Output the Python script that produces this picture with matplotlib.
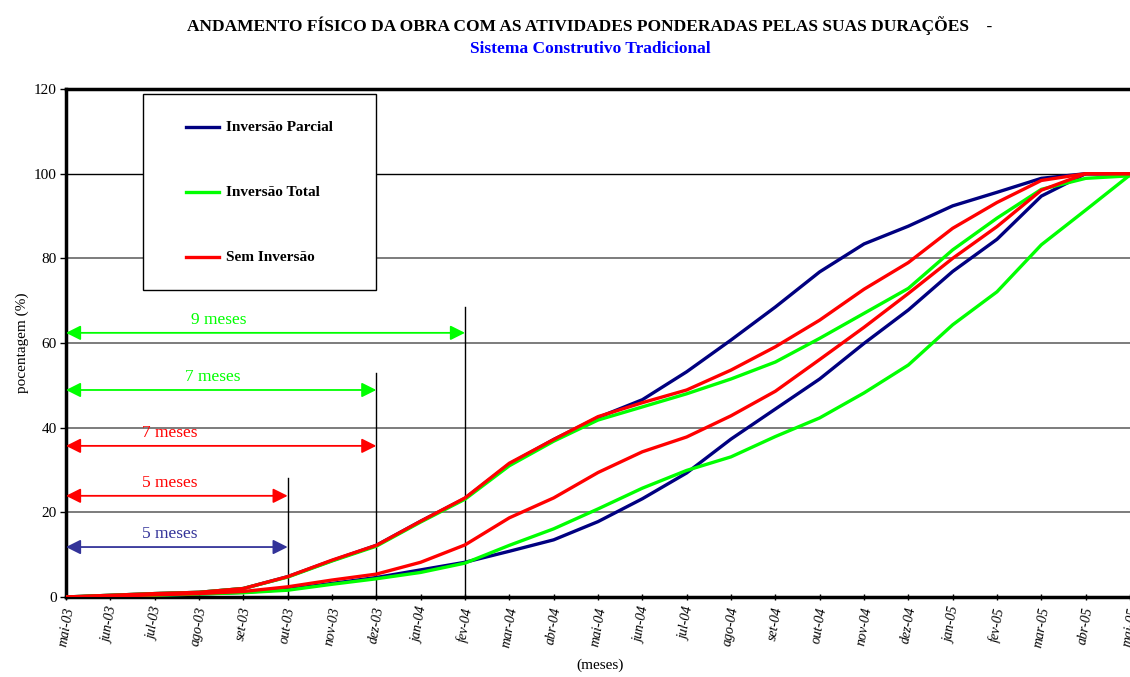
import matplotlib
matplotlib.use('Agg')
import matplotlib.pyplot as plt
from matplotlib.patches import Rectangle
from matplotlib.lines import Line2D

plt.rcParams['font.family'] = ['Liberation Serif', 'DejaVu Serif']

# meses do cronograma
meses = ['mai-03', 'jun-03', 'jul-03', 'ago-03', 'set-03', 'out-03', 'nov-03', 'dez-03',
         'jan-04', 'fev-04', 'mar-04', 'abr-04', 'mai-04', 'jun-04', 'jul-04', 'ago-04',
         'set-04', 'out-04', 'nov-04', 'dez-04', 'jan-05', 'fev-05', 'mar-05', 'abr-05', 'mai-05']

# curvas de avanço (%) - cedo (a) e tarde (b)
parcial_a = [0, 0.4, 0.8, 1.1, 2.0, 4.8, 8.6, 12.2, 17.9, 23.3, 31.4, 37.2, 42.4, 46.6, 53.2,
             60.7, 68.5, 76.8, 83.4, 87.6, 92.4, 95.6, 98.9, 100, 100]
total_a = [0, 0.4, 0.8, 1.1, 2.0, 4.7, 8.5, 12.0, 17.7, 23.1, 31.0, 36.8, 41.8, 44.9, 48.0,
           51.5, 55.5, 61.1, 67.0, 72.9, 82.0, 89.5, 96.3, 98.9, 99.5]
sem_a = [0, 0.4, 0.8, 1.1, 2.0, 4.8, 8.7, 12.2, 17.9, 23.4, 31.6, 37.2, 42.6, 45.9, 48.9,
         53.6, 59.1, 65.4, 72.7, 79.0, 87.1, 93.2, 98.4, 100, 100]
parcial_b = [0, 0.2, 0.4, 0.7, 1.1, 1.8, 3.2, 4.6, 6.4, 8.2, 10.8, 13.5, 17.8, 23.2, 29.3,
             37.3, 44.4, 51.5, 59.9, 67.8, 76.9, 84.5, 94.7, 100, 100]
total_b = [0, 0.2, 0.4, 0.7, 1.0, 1.6, 3.0, 4.3, 5.8, 8.0, 12.2, 16.1, 20.8, 25.7, 29.9,
           33.1, 37.9, 42.3, 48.2, 54.8, 64.3, 72.1, 83.2, 91.4, 99.7]
sem_b = [0, 0.2, 0.5, 0.8, 1.3, 2.4, 4.0, 5.4, 8.2, 12.3, 18.7, 23.4, 29.4, 34.3, 37.8,
         42.8, 48.6, 56.1, 63.7, 71.7, 80.0, 87.5, 96.1, 100, 100]

# folgas (meses) marcadas com setas
folgas = [5, 5, 7, 7, 9]
folga_y = [11.8, 23.9, 35.7, 48.9, 62.4]
folga_txt_x = [2.35, 2.35, 2.35, 3.3, 3.45]
folga_cor = ['#333399', '#ff0000', '#ff0000', '#00ff00', '#00ff00']
marco_x = [5, 7, 9]
marco_topo = [28, 53, 68.5]

azul = '#000080'
verde = '#00ff00'
vermelho = '#ff0000'

fig = plt.figure(figsize=(11.3, 6.77), dpi=100)
ax = fig.add_axes([0.0584, 0.1182, 0.9416, 0.7503])

x = list(range(len(meses)))

# grade
for g in [20, 40, 60, 80]:
    ax.axhline(g, color='#666666', lw=1.2, zorder=1)
ax.axhline(100, color='black', lw=1.0, zorder=1)

lw = 2.4
ax.plot(x, parcial_a, color=azul, lw=lw, zorder=3)
ax.plot(x, parcial_b, color=azul, lw=lw, zorder=3)
ax.plot(x, total_a, color=verde, lw=lw, zorder=4)
ax.plot(x, total_b, color=verde, lw=lw, zorder=4)
ax.plot(x, sem_a, color=vermelho, lw=lw, zorder=5)
ax.plot(x, sem_b, color=vermelho, lw=lw, zorder=5)

# marcos verticais
for mx, mt in zip(marco_x, marco_topo):
    ax.plot([mx, mx], [0, mt], color='black', lw=1.0, zorder=2)

# setas de folga
for f, fy, tx, c in zip(folgas, folga_y, folga_txt_x, folga_cor):
    ax.annotate('', xy=(f, fy), xytext=(0, fy),
                arrowprops=dict(arrowstyle='<|-|>', color=c, lw=1.3,
                                mutation_scale=22, shrinkA=0, shrinkB=0),
                zorder=6)
    ax.text(tx, fy + 1.2, '%d meses' % f, color=c, fontsize=12.5,
            ha='center', va='bottom', zorder=6)

ax.set_xlim(0, 24)
ax.set_ylim(0, 120)
ax.set_yticks(range(0, 121, 20))
ax.set_xticks(x)
ax.set_xticklabels(meses, rotation=80, fontsize=10, style='italic', ha='center', va='top')
ax.tick_params(axis='y', labelsize=11, length=4, width=1, direction='out', pad=2.5)
ax.tick_params(axis='x', length=5, width=1, direction='inout', pad=4)

for s in ['left', 'bottom', 'top']:
    ax.spines[s].set_linewidth(2.5)
ax.spines['right'].set_visible(False)

ax.set_ylabel('pocentagem (%)', fontsize=11, labelpad=4)
fig.text(0.531, 0.0177, '(meses)', fontsize=11, ha='center', va='center')

# legenda desenhada à mão
ax.add_patch(Rectangle((0.0724, 0.604), 0.219, 0.386, transform=ax.transAxes,
                       facecolor='white', edgecolor='black', lw=1.0, zorder=7))
leg_itens = [('Inversão Parcial', azul), ('Inversão Total', verde), ('Sem Inversão', vermelho)]
leg_y = [0.925, 0.797, 0.669]
for (nome, c), ly in zip(leg_itens, leg_y):
    ax.add_line(Line2D([0.1128, 0.1438], [ly, ly], transform=ax.transAxes,
                       color=c, lw=lw, zorder=8))
    ax.text(0.1504, ly, nome, transform=ax.transAxes, fontsize=11,
            fontweight='bold', va='center', ha='left', zorder=8)

fig.text(0.522, 0.963, 'ANDAMENTO FÍSICO DA OBRA COM AS ATIVIDADES PONDERADAS PELAS SUAS DURAÇÕES    -',
         fontsize=12.5, fontweight='bold', ha='center', va='center')
fig.text(0.522, 0.927, 'Sistema Construtivo Tradicional', fontsize=12.5, fontweight='bold',
         color='#0000ff', ha='center', va='center')

fig.savefig('out.png', dpi=100)
